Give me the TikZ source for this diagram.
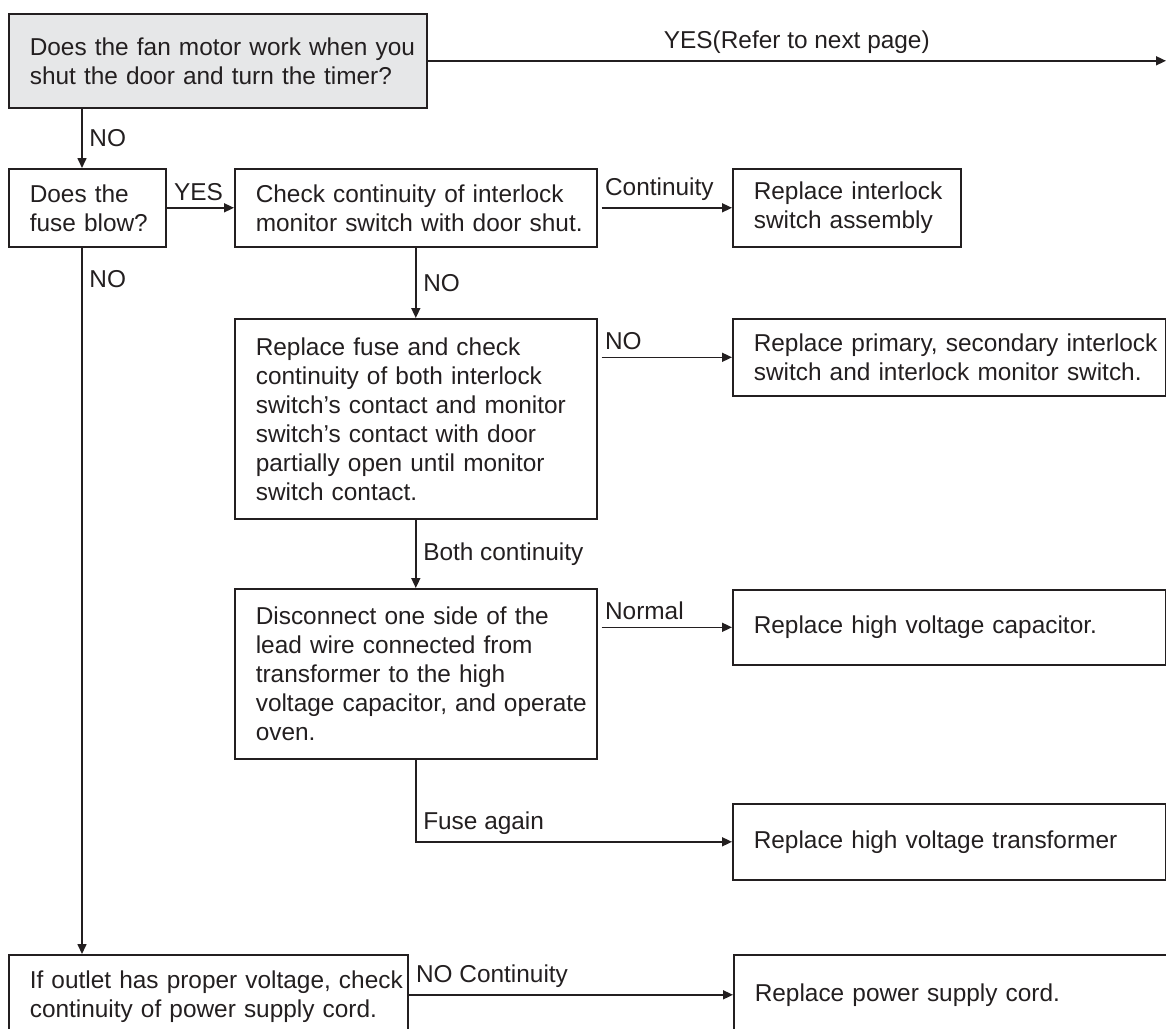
\documentclass[tikz,border=0pt]{standalone}
\usepackage{fontspec}
\setmainfont{Liberation Sans}
\usetikzlibrary{arrows.meta}
\definecolor{chartink}{RGB}{35,31,32}
\definecolor{chartgray}{RGB}{230,231,232}

\begin{document}
\begin{tikzpicture}[x=0.5pt, y=-0.5pt,
    every node/.style={font=\fontsize{12.2}{14.5}\selectfont, text=chartink},
    box/.style={draw=chartink, line width=0.8pt, anchor=north west, align=left,
        inner xsep=0pt, inner ysep=0pt, text width=#1,
        execute at begin node={\leftskip=10.5pt\relax}},
    arr/.style={draw=chartink, line width=0.8pt, -{Triangle[length=5pt,width=4.5pt]}},
    lbl/.style={above right, pos=0},
    vlbl/.style={right, midway}]
    \useasboundingbox (0,0) rectangle (1166,1028);

    \node[box=209pt, minimum height=47pt, fill=chartgray] (motor) at (8,13)
        {Does the fan motor work when you\\shut the door and turn the timer?};
    \node[box=78.5pt, minimum height=39pt] (fuse) at (8,168)
        {Does the\\fuse blow?};
    \node[box=181pt, minimum height=39pt] (interlock) at (234,168)
        {Check continuity of interlock\\monitor switch with door shut.};
    \node[box=114pt, minimum height=39pt] (swasm) at (732,168)
        {Replace interlock\\switch assembly};
    \node[box=181pt, minimum height=100pt] (refuse) at (234,318)
        {Replace fuse and check\\continuity of both interlock\\switch’s contact and monitor\\switch’s contact with door\\partially open until monitor\\switch contact.};
    \node[box=216.5pt, minimum height=38.5pt] (primary) at (732,318)
        {Replace primary, secondary interlock\\switch and interlock monitor switch.};
    \node[box=181pt, minimum height=85pt] (disconnect) at (234,588)
        {Disconnect one side of the\\lead wire connected from\\transformer to the high\\voltage capacitor, and operate\\oven.};
    \node[box=216.5pt, minimum height=37.5pt] (hvcap) at (732,589)
        {Replace high voltage capacitor.};
    \node[box=216.5pt, minimum height=38pt] (hvtrans) at (732,803)
        {Replace high voltage transformer};
    \node[box=199.5pt, minimum height=42pt] (outlet) at (8,954)
        {If outlet has proper voltage, check\\continuity of power supply cord.};
    \node[box=216.5pt, minimum height=40pt] (cord) at (733,954)
        {Replace power supply cord.};

    \coordinate (nocol) at (82,0);
    \coordinate (pageend) at (1166,0);

    \draw[arr] (motor.east) -- (motor.east -| pageend) node[midway, above] {YES(Refer to next page)};
    \draw[arr] (motor.south -| nocol) -- (fuse.north -| nocol) node[vlbl] {NO};
    \draw[arr] (fuse.east) -- (interlock.west) node[lbl] {YES};
    \draw[arr, shorten <=2pt] (interlock.east) -- (swasm.west) node[lbl] {Continuity};
    \draw[arr] (interlock.south) -- (refuse.north) node[vlbl] {NO};
    \draw[arr, shorten <=2pt] (refuse.east |- primary.west) -- (primary.west) node[lbl] {NO};
    \draw[arr] (refuse.south) -- (disconnect.north) node[vlbl] {Both continuity};
    \draw[arr, shorten <=2pt] (disconnect.east |- hvcap.west) -- (hvcap.west) node[lbl] {Normal};
    \draw[arr] (disconnect.south) |- (hvtrans.west) node[pos=0.5, above right] {Fuse again};
    \draw[arr] (fuse.south -| nocol) -- (outlet.north -| nocol) node[right, pos=0.045] {NO};
    \draw[arr] (outlet.east |- cord.west) -- (cord.west) node[lbl] {NO Continuity};
\end{tikzpicture}
\end{document}
